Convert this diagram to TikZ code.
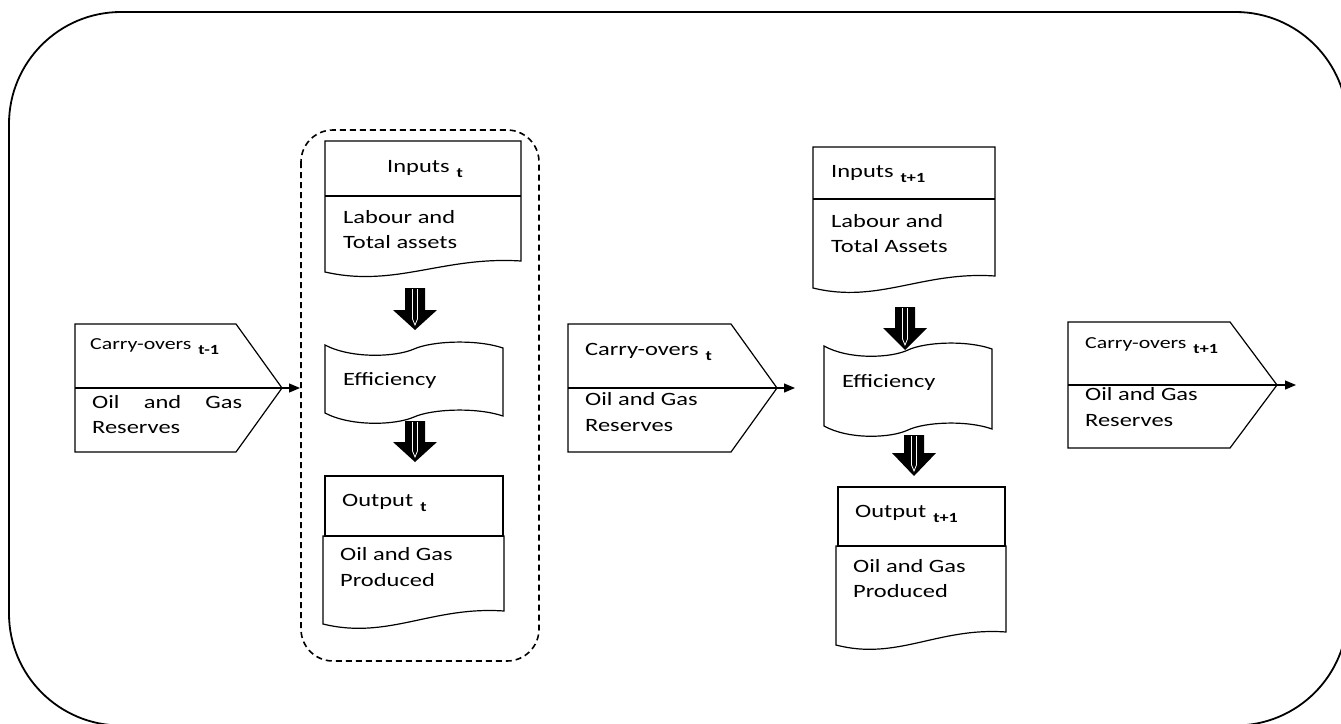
\documentclass[tikz,border=0pt]{standalone}
\usepackage{fontspec}
\setmainfont{Carlito}[FakeStretch=1.3]
\usetikzlibrary{arrows.meta}
\newcommand{\mysub}[1]{\hspace{7pt}\raisebox{-5.5pt}{\fontsize{14}{14}\selectfont\bfseries #1}}
% document shape: L T R Bleft Bright
\newcommand{\docshape}[5]{%
  \draw[box] (#1,#2) -- (#3,#2) -- (#3,#5)
    .. controls ({#1+0.6*(#3-#1)},{#5-5}) and ({#1+0.36*(#3-#1)},{#4+16}) .. (#1,#4) -- cycle;}
% tape shape: L T R H
\newcommand{\tapeshape}[4]{%
  \draw[box] (#1,#2)
    .. controls ({#1+0.15*(#3-#1)},{#2+14}) and ({#1+0.4*(#3-#1)},{#2+12}) .. ({#1+0.5*(#3-#1)},{#2+4})
    .. controls ({#1+0.6*(#3-#1)},{#2-4}) and ({#1+0.85*(#3-#1)},{#2-6}) .. (#3,{#2+3})
    -- (#3,{#2+3+#4})
    .. controls ({#1+0.85*(#3-#1)},{#2-6+#4}) and ({#1+0.6*(#3-#1)},{#2-4+#4}) .. ({#1+0.5*(#3-#1)},{#2+4+#4})
    .. controls ({#1+0.4*(#3-#1)},{#2+12+#4}) and ({#1+0.15*(#3-#1)},{#2+14+#4}) .. (#1,{#2+#4}) -- cycle;}
% carry-over pentagon: L T Rstraight tipx B
\newcommand{\carry}[5]{%
  \draw[box] (#1,#2) -- (#3,#2) -- (#4,{(#2+#5)/2}) -- (#3,#5) -- (#1,#5) -- cycle;
  \draw[box] (#1,{(#2+#5)/2}) -- (#4,{(#2+#5)/2});}
% block arrow: cx top headstart tip
\newcommand{\blockarrow}[4]{%
  \fill[black] ({#1-10},#2) -- ({#1+10},#2) -- ({#1+10},#3) -- ({#1+22},#3) -- (#1,#4)
     -- ({#1-22},#3) -- ({#1-10},#3) -- cycle;
  \draw[white, line width=0.8pt] ({#1-2.5},{#2+1}) -- ({#1-2.5},{#4-11}) -- (#1,{#4-5})
     -- ({#1+2.5},{#4-11}) -- ({#1+2.5},{#2+1});}
\begin{document}
\begin{tikzpicture}[x=1pt,y=-1pt,
  frame/.style={line width=1.8pt},
  box/.style={draw, line width=1.2pt, line join=miter},
  txt/.style={anchor=base west, inner sep=0pt, font=\fontsize{18.8}{25}\selectfont},
  smalltxt/.style={anchor=base west, inner sep=0pt, font=\fontsize{16.8}{20}\selectfont},
  tinyarrow/.style={line width=1.2pt, -{Triangle[length=11pt,width=9pt]}}
]
\useasboundingbox (0,0) rectangle (1341,723);
\begin{scope}
  \clip (0,0) rectangle (1341,723);
  \draw[frame, rounded corners=112pt] (9,12) rectangle (1347.5,725.5);
\end{scope}

% dashed group
\draw[line width=1.6pt, dash pattern=on 6pt off 4pt, rounded corners=32pt] (301,130) rectangle (539,661);

% carry-overs
\carry{75}{324}{236}{282}{452}
\carry{568}{324}{731}{777}{452}
\carry{1068}{322}{1230}{1277}{448}
\coordinate (tip0) at (282,388);
\coordinate (tip1) at (777,388);
\coordinate (tip2) at (1277,385);
\coordinate (end0) at (300,388);
\coordinate (end1) at (795,388);
\coordinate (end2) at (1296,385);
\draw[tinyarrow] (tip0) -- (end0);
\draw[tinyarrow] (tip1) -- (end1);
\draw[tinyarrow] (tip2) -- (end2);

% inputs t
\docshape{325}{141}{521}{272}{261}
\draw[box] (325,196) -- (521,196);
% efficiency t
\tapeshape{325}{345}{503}{68}
% output t
\draw[box] (325,476) rectangle (503,536);
\docshape{323}{536}{504}{624}{611}

% inputs t+1
\docshape{813}{147}{995}{288}{276}
\draw[box] (813,199) -- (995,199);
% efficiency t+1
\tapeshape{824}{346}{992}{80}
% output t+1
\draw[box] (838,487) rectangle (1005,546);
\docshape{836}{546}{1006}{645}{632}

% block arrows
\blockarrow{415}{288}{310}{330}
\blockarrow{415}{421}{442}{462}
\blockarrow{905}{307}{328}{350}
\blockarrow{914}{435}{453}{476}

% texts
\node[smalltxt] (c0a) at (90,349) {Carry-overs\mysub{t-1}};
\node[txt] (c0b) at (92,408) {\makebox[150pt][l]{Oil\hfill and\hfill Gas}};
\node[txt] (c0c) at (92,433) {Reserves};

\node[txt] (c1a) at (585,355) {Carry-overs\mysub{t}};
\node[txt] (c1b) at (585,405) {Oil and Gas};
\node[txt] (c1c) at (585,431) {Reserves};

\node[smalltxt] (c2a) at (1085,348) {Carry-overs\mysub{t+1}};
\node[txt] (c2b) at (1085,400) {Oil and Gas};
\node[txt] (c2c) at (1085,426) {Reserves};

\node[txt] (i1a) at (387,172) {Inputs\mysub{t}};
\node[txt] (i1b) at (343,223) {Labour and};
\node[txt] (i1c) at (343,248) {Total assets};
\node[txt] (e1) at (343,385) {Efficiency};
\node[txt] (o1a) at (342,506) {Output\mysub{t}};
\node[txt] (o1b) at (340,560) {Oil and Gas};
\node[txt] (o1c) at (340,586) {Produced};

\node[txt] (i2a) at (831,177) {Inputs\mysub{t+1}};
\node[txt] (i2b) at (831,227) {Labour and};
\node[txt] (i2c) at (831,252) {Total Assets};
\node[txt] (e2) at (842,387) {Efficiency};
\node[txt] (o2a) at (855,517) {Output\mysub{t+1}};
\node[txt] (o2b) at (853,572) {Oil and Gas};
\node[txt] (o2c) at (853,597) {Produced};
\end{tikzpicture}
\end{document}
